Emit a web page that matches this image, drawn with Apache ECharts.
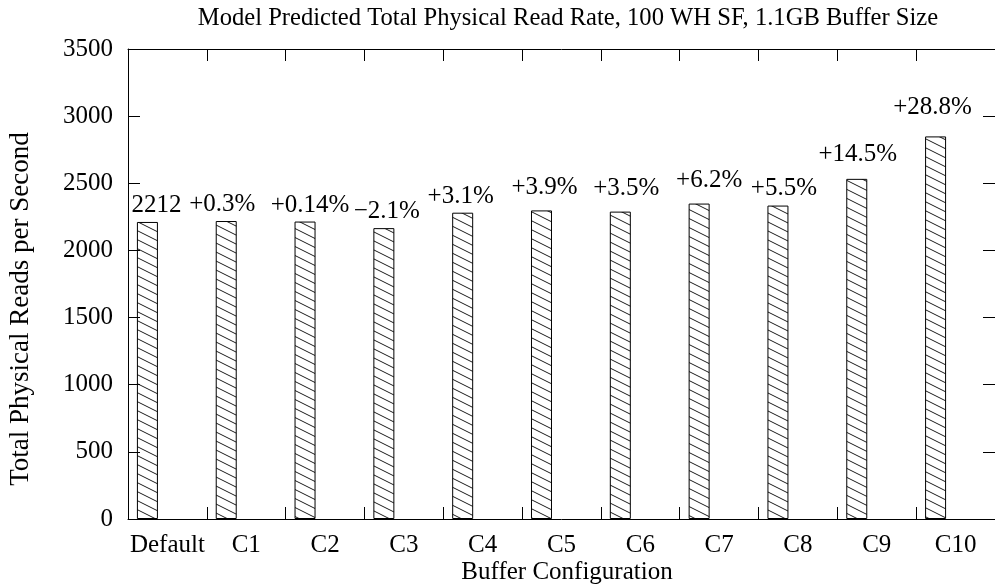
<!DOCTYPE html>
<html>
<head>
<meta charset="utf-8">
<style>
  html, body { margin: 0; padding: 0; background: #fff; }
  #chart { width: 995px; height: 585px; }
</style>
<script src="https://cdn.jsdelivr.net/npm/echarts@6/dist/echarts.min.js"></script>
</head>
<body>
<div id="chart"></div>
<script>
// Buffer configurations and predicted total physical read rate (reads/s)
const configs = ['Default', 'C1', 'C2', 'C3', 'C4', 'C5', 'C6', 'C7', 'C8', 'C9', 'C10'];
const readRate = [2212, 2219, 2215, 2166, 2281, 2298, 2289, 2349, 2334, 2533, 2849];
const changeLabels = ['2212', '+0.3%', '+0.14%', '\u22122.1%', '+3.1%', '+3.9%', '+3.5%', '+6.2%', '+5.5%', '+14.5%', '+28.8%'];
const yTicks = { min: 0, max: 3500, step: 500 };

// small per-label nudges [dx, dy] in pixels
const labelNudge = [[9, 0], [-4, 0], [5, 0], [3, 0], [-2, 0], [3, -6], [6, -7], [10, -7], [6, -1], [1, -8], [-3, -12]];

const FONT = 'Liberation Serif';
const FS = 25;

// diagonal hatch tile ("\" lines)
function hatchTile() {
  const c = document.createElement('canvas');
  c.width = 18; c.height = 9;
  const g = c.getContext('2d');
  g.strokeStyle = '#000';
  g.lineWidth = 0.9;
  for (let k = -1; k <= 1; k++) {
    g.beginPath();
    g.moveTo(-18, -9 + k * 9);
    g.lineTo(36, 18 + k * 9);
    g.stroke();
  }
  return c;
}

const chart = echarts.init(document.getElementById('chart'), null, { renderer: 'canvas' });

const axisLine = { show: true, onZero: false, lineStyle: { color: '#000', width: 1 } };
const tick = { show: true, inside: true, length: 12, lineStyle: { color: '#000', width: 1 } };

const barData = readRate.map((v, i) => ({
  value: v,
  label: { offset: labelNudge[i] }
}));

chart.setOption({
  animation: false,
  backgroundColor: '#fff',
  textStyle: { fontFamily: FONT, color: '#000' },
  grid: { left: 128, top: 49, width: 875, height: 470 },
  xAxis: [
    {
      type: 'category', data: configs, position: 'bottom',
      boundaryGap: true,
      axisLine: axisLine, axisTick: tick,
      axisLabel: { color: '#000', fontFamily: FONT, fontSize: FS, margin: 14, interval: 0 },
      splitLine: { show: false }
    },
    {
      type: 'category', data: configs, position: 'top',
      boundaryGap: true,
      axisLine: axisLine, axisTick: tick,
      axisLabel: { show: false },
      splitLine: { show: false }
    }
  ],
  yAxis: [
    {
      type: 'value', position: 'left',
      min: yTicks.min, max: yTicks.max, interval: yTicks.step,
      axisLine: axisLine, axisTick: tick,
      axisLabel: { color: '#000', fontFamily: FONT, fontSize: FS, margin: 15, formatter: v => String(v) },
      splitLine: { show: false }
    },
    {
      type: 'value', position: 'right',
      min: yTicks.min, max: yTicks.max, interval: yTicks.step,
      axisLine: axisLine, axisTick: tick,
      axisLabel: { show: false },
      splitLine: { show: false }
    }
  ],
  series: [
    {
      name: 'Total Physical Reads per Second',
      type: 'bar',
      xAxisIndex: 0, yAxisIndex: 0,
      data: barData,
      barWidth: 21,
      barGap: '90.5%',
      itemStyle: {
        color: { image: hatchTile(), repeat: 'repeat' },
        borderColor: '#000',
        borderWidth: 1
      },
      label: {
        show: true,
        position: 'top',
        distance: 4,
        color: '#000',
        fontFamily: FONT,
        fontSize: FS,
        formatter: p => changeLabels[p.dataIndex]
      }
    },
    {
      // empty companion series keeps the drawn bars left of each slot centre
      type: 'bar',
      xAxisIndex: 0, yAxisIndex: 0,
      data: configs.map(() => null),
      barWidth: 21,
      silent: true
    }
  ],
  graphic: [
    {
      type: 'text', x: 568, y: 19,
      style: {
        text: 'Model Predicted Total Physical Read Rate, 100 WH SF, 1.1GB Buffer Size',
        font: '24.6px "' + FONT + '"', fill: '#000',
        align: 'center', verticalAlign: 'middle'
      }
    },
    {
      type: 'text', x: 567, y: 572,
      style: {
        text: 'Buffer Configuration',
        font: FS + 'px "' + FONT + '"', fill: '#000',
        align: 'center', verticalAlign: 'middle'
      }
    },
    {
      type: 'text', x: 21, y: 309, rotation: Math.PI / 2,
      style: {
        text: 'Total Physical Reads per Second',
        font: '27px "' + FONT + '"', fill: '#000',
        align: 'center', verticalAlign: 'middle'
      }
    }
  ]
});
</script>
</body>
</html>
